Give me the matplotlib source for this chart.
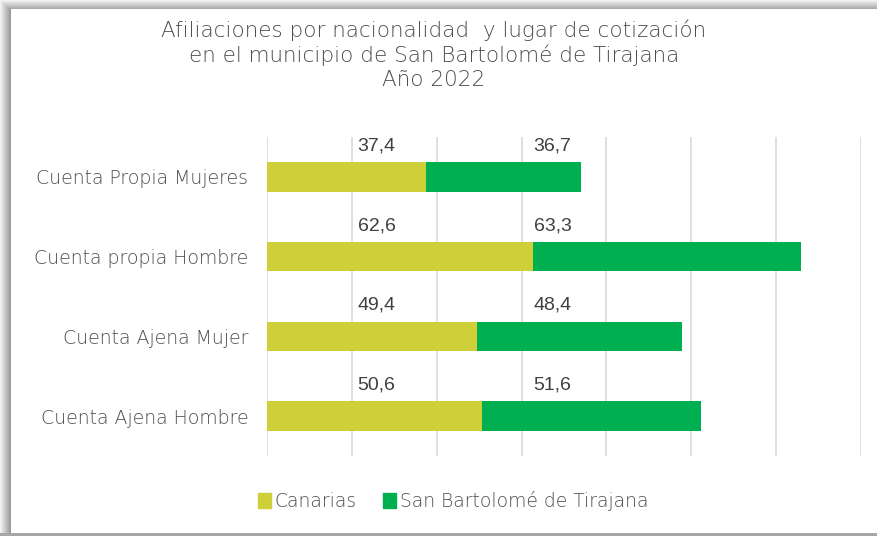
import matplotlib
matplotlib.use("Agg")
import matplotlib.pyplot as plt
from matplotlib.patches import Rectangle, Patch
import numpy as np

# ---- data ----
categories = ["Cuenta Propia Mujeres", "Cuenta propia Hombre", "Cuenta Ajena Mujer", "Cuenta Ajena Hombre"]
canarias = [37.4, 62.6, 49.4, 50.6]
sbt = [36.7, 63.3, 48.4, 51.6]
series_names = ["Canarias", "San Bartolomé de Tirajana"]
title_lines = ["Afiliaciones por nacionalidad  y lugar de cotización",
               "en el municipio de San Bartolomé de Tirajana",
               "Año 2022"]

# ---- style ----
C_CAN = "#CFCF3A"
C_SBT = "#00B050"
TXT = "#4D4D4D"
LBL = "#404040"
FONT = "DejaVu Sans"
LFONT = "Liberation Sans"
WEIGHT = "light"

W, H = 877, 536
fig = plt.figure(figsize=(W / 100, H / 100), dpi=100)
fig.patch.set_facecolor("white")

# frame / shadow decoration
bg = fig.add_axes([0, 0, 1, 1], zorder=-10)
bg.set_xlim(0, W)
bg.set_ylim(H, 0)
bg.axis("off")
for i in range(11):
    g = 0.95 - 0.035 * i
    bg.add_patch(Rectangle((i, 0), 1, H, color=(g, g, g), lw=0))
for j in range(9):
    g = 0.95 - 0.035 * j
    bg.add_patch(Rectangle((j, j), W, 1, color=(g, g, g), lw=0))
bg.add_patch(Rectangle((11, 9), W - 11, 524, color="white", lw=0))
bg.add_patch(Rectangle((0, 533), W, 3, color="#A6A6A6", lw=0))

# plot area
x0, x1, ytop, ybot = 267, 861, 137, 456
ax = fig.add_axes([x0 / W, 1 - ybot / H, (x1 - x0) / W, (ybot - ytop) / H])
ax.set_facecolor("none")
y = np.arange(len(categories))
ax.barh(y, canarias, height=0.37, color=C_CAN, zorder=3)
ax.barh(y, sbt, left=canarias, height=0.37, color=C_SBT, zorder=3)
ax.set_xlim(0, 140)
ax.set_ylim(len(categories) - 0.5, -0.5)
ax.set_xticks(np.arange(0, 141, 20))
ax.xaxis.grid(True, color="#D9D9D9", lw=1.2, zorder=0)
ax.tick_params(axis="x", length=0, labelbottom=False)
ax.tick_params(axis="y", length=0, pad=13.5)
ax.set_yticks(y)
ax.set_yticklabels(categories, fontsize=13.6, color=TXT, fontfamily=FONT, fontweight=WEIGHT)
for s in ax.spines.values():
    s.set_visible(False)

# data labels (placed above each bar, at fixed horizontal spots)
LABEL_X = (25.8, 67.3)
for i in range(len(categories)):
    ax.text(LABEL_X[0], i - 0.39, f"{canarias[i]:.1f}".replace(".", ","), ha="center", va="center",
            fontsize=14, color=LBL, fontfamily=LFONT)
    ax.text(LABEL_X[1], i - 0.39, f"{sbt[i]:.1f}".replace(".", ","), ha="center", va="center",
            fontsize=14, color=LBL, fontfamily=LFONT)

# title
for k, line in enumerate(title_lines):
    fig.text(434 / W, 1 - (30 + 25 * k) / H, line, ha="center", va="center",
             fontsize=15.5, color=TXT, fontfamily=FONT, fontweight=WEIGHT)

# legend
handles = [Patch(color=C_CAN), Patch(color=C_SBT)]
fig.legend(handles, series_names, loc="center", bbox_to_anchor=(453 / W, 1 - 501 / H),
           ncol=2, frameon=False, handlelength=0.7, handleheight=0.9,
           handletextpad=0.2, columnspacing=1.4, labelcolor=TXT,
           prop={"family": FONT, "size": 13.5, "weight": WEIGHT})

fig.savefig("out.png", dpi=100)
